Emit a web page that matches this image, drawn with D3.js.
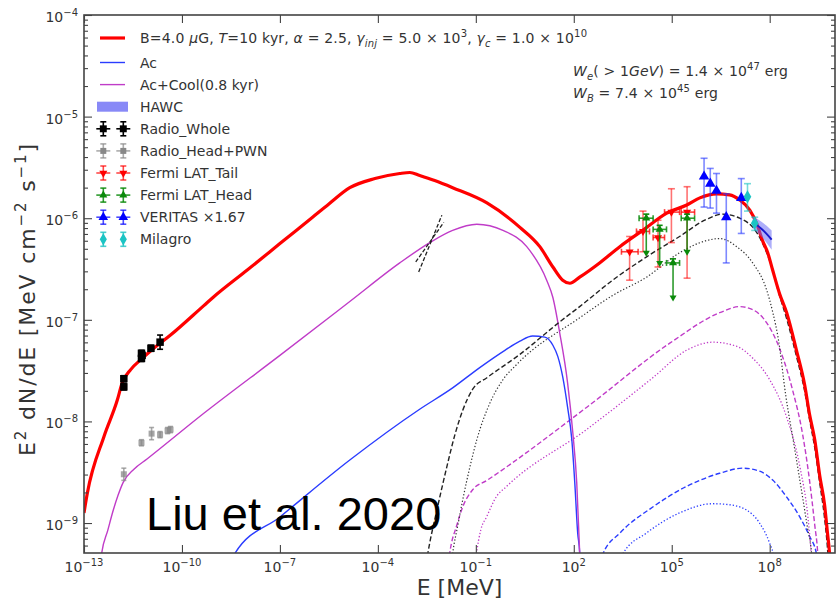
<!DOCTYPE html>
<html>
<head>
<meta charset="utf-8">
<script src="https://cdn.jsdelivr.net/npm/d3@7"></script>
<style>
  body { margin: 0; background: #fff; }
  text { font-family: "DejaVu Sans", sans-serif; }
</style>
</head>
<body>
<svg id="chart" width="837" height="605"></svg>
<script>
// all curves: [log10(E / MeV), log10(E^2 dN/dE)]
const totalModel = [[-13, -8.90], [-12.90, -8.71], [-12.39, -8.15], [-11.98, -7.79], [-11.83, -7.62], [-11.57, -7.49],
  [-11.22, -7.38], [-10.86, -7.28], [-10.35, -7.15], [-9.33, -6.86], [-9.05, -6.78], [-8.00, -6.51], [-7.00, -6.25],
  [-6.00, -5.99], [-5.50, -5.86], [-4.86, -5.70], [-4.09, -5.61], [-3.33, -5.56], [-3.02, -5.55], [-2.72, -5.58],
  [-2.26, -5.63], [-1.71, -5.70], [-0.66, -5.85], [0.35, -6.09], [0.96, -6.28], [1.36, -6.48], [1.66, -6.61],
  [1.88, -6.64], [2.18, -6.58], [2.79, -6.44], [3.41, -6.28], [4.11, -6.12], [4.85, -5.95], [5.46, -5.87],
  [5.86, -5.80], [6.38, -5.76], [6.77, -5.77], [7.08, -5.82], [7.39, -5.92], [7.60, -6.05], [7.78, -6.22],
  [7.94, -6.34], [8.09, -6.51], [8.30, -6.74], [8.52, -6.93], [8.82, -7.30], [9.07, -7.64], [9.22, -7.93],
  [9.38, -8.18], [9.53, -8.53], [9.68, -8.82], [9.77, -9.10], [9.83, -9.29], [9.86, -9.45]];

const synAcCool = [[-12.50, -9.40], [-12.46, -9.30], [-12.27, -9.07], [-12.10, -8.87], [-11.96, -8.73], [-11.80, -8.60],
  [-11.47, -8.47], [-11.07, -8.37], [-9.33, -7.92], [-7.00, -7.35], [-4.86, -6.82], [-3.33, -6.44], [-2.41, -6.24],
  [-1.71, -6.12], [-0.97, -6.06], [-0.17, -6.12], [0.56, -6.28], [1.17, -6.61], [1.36, -6.78], [1.57, -7.13],
  [1.81, -7.62], [1.97, -8.11], [2.09, -8.60], [2.18, -9.29], [2.21, -9.50]];

const synAc = [[-8.45, -9.40], [-8.38, -9.30], [-7.00, -8.94], [-4.86, -8.38], [-2.72, -7.88], [-1.71, -7.67],
  [-0.88, -7.47], [-0.11, -7.30], [0.35, -7.21], [0.74, -7.16], [1.11, -7.17], [1.36, -7.25], [1.51, -7.36],
  [1.66, -7.56], [1.81, -7.86], [1.94, -8.18], [2.03, -8.60], [2.12, -9.10], [2.18, -9.29], [2.20, -9.50]];

const icTotal = [[-2.52, -9.40], [-2.47, -9.30], [-2.19, -8.87], [-1.89, -8.45], [-1.64, -8.13], [-1.40, -7.89],
  [-1.09, -7.68], [-0.66, -7.57], [0.35, -7.34], [1.57, -7.02], [2.18, -6.87], [3.19, -6.61], [4.23, -6.38],
  [5.24, -6.18], [6.07, -6.01], [6.56, -5.96], [7.08, -6.00], [7.60, -6.14], [8.00, -6.42], [8.30, -6.76],
  [8.52, -6.99], [8.82, -7.36], [9.07, -7.70], [9.22, -7.98], [9.38, -8.26], [9.53, -8.60], [9.68, -8.95],
  [9.77, -9.25], [9.81, -9.45]];

const icDotted = [[-1.75, -9.40], [-1.71, -9.30], [-1.55, -9.02], [-1.40, -8.77], [-1.19, -8.46], [-0.97, -8.18],
  [-0.57, -7.82], [-0.17, -7.59], [0.25, -7.44], [2.18, -6.98], [3.19, -6.76], [4.23, -6.58], [5.24, -6.34],
  [6.07, -6.22], [6.47, -6.20], [6.99, -6.28], [7.48, -6.44], [7.91, -6.71], [8.09, -6.92], [8.27, -7.20],
  [8.49, -7.74], [8.76, -8.26], [9.01, -8.75], [9.16, -9.05], [9.28, -9.29], [9.32, -9.45]];

const icAcCoolDash = [[-1.84, -9.40], [-1.80, -9.30], [-1.58, -9.02], [-1.40, -8.84], [-1.09, -8.67], [-0.66, -8.58],
  [2.40, -7.86], [4.94, -7.23], [6.47, -6.93], [7.08, -6.87], [7.48, -6.90], [7.91, -7.03], [8.30, -7.28],
  [8.70, -7.69], [9.01, -8.13], [9.22, -8.58], [9.38, -9.02], [9.47, -9.29], [9.50, -9.45]];

const icAcCoolDot = [[-1.02, -9.40], [-0.98, -9.30], [-0.85, -9.07], [-0.67, -8.94], [-0.37, -8.74], [-0.06, -8.64],
  [2.39, -8.08], [4.42, -7.57], [5.45, -7.30], [6.26, -7.22], [6.98, -7.26], [7.49, -7.38], [8.00, -7.59],
  [8.51, -7.95], [8.92, -8.44], [9.17, -8.94], [9.27, -9.30], [9.30, -9.45]];

const icAcDash = [[2.86, -9.40], [2.90, -9.30], [3.41, -9.10], [4.43, -8.84], [5.45, -8.64], [6.47, -8.51],
  [7.18, -8.46], [7.69, -8.49], [8.10, -8.58], [8.51, -8.74], [8.92, -8.94], [9.22, -9.13], [9.43, -9.30], [9.47, -9.40]];

const icAcDot = [[3.47, -9.40], [3.51, -9.30], [4.22, -9.10], [5.24, -8.90], [6.26, -8.81], [6.77, -8.82],
  [7.28, -8.87], [7.69, -9.00], [8.00, -9.20], [8.10, -9.30], [8.13, -9.40]];

// X-ray butterfly (two power laws)
const xrayA = [[-2.75, -6.53], [-2.04, -5.97]];
const xrayB = [[-2.84, -6.43], [-1.98, -6.04]];

// data points
// radio: [logE, logF, err in dex]
const radioWhole = [[-11.78, -7.58, 0.03], [-11.78, -7.66, 0.03], [-11.24, -7.33, 0.03], [-11.24, -7.38, 0.03],
  [-11.22, -7.35, 0.03], [-10.95, -7.28, 0.03], [-10.67, -7.22, 0.07]];
const radioHead = [[-11.78, -8.52, 0.06], [-11.24, -8.21, 0.03], [-10.93, -8.12, 0.06], [-10.67, -8.13, 0.03],
  [-10.44, -8.09, 0.03], [-10.35, -8.08, 0.03]];
// fermi tail: [logE, logE lo, logE hi, logF, logF lo, logF hi]
const fermiTail = [[3.71, 3.46, 3.97, -6.33, -6.61, -6.18], [4.12, 3.92, 4.32, -6.13, -6.33, -5.93],
  [4.58, 4.43, 4.78, -6.19, -6.48, -6.02], [4.99, 4.78, 5.24, -5.94, -6.24, -5.71],
  [5.47, 5.29, 5.70, -5.94, -6.59, -5.69]];
// fermi head: [logE, logE lo, logE hi, logF, logF top, logF arrow]
const fermiHead = [[4.22, 4.00, 4.43, -6.00, -5.96, -6.38], [4.63, 4.43, 4.84, -6.11, -6.07, -6.48],
  [5.04, 4.84, 5.24, -6.44, -6.40, -6.82], [5.47, 5.29, 5.70, -6.00, -5.96, -6.37]];
// [logE, logF, logF lo, logF hi]
const veritas = [[5.99, -5.58, -5.89, -5.41], [6.18, -5.65, -5.90, -5.51], [6.37, -5.72, -5.95, -5.56],
  [6.67, -5.98, -6.44, -5.76], [7.13, -5.79, -6.15, -5.61]];
const milagro = [[7.32, -5.79, -5.93, -5.66], [7.54, -6.05, -6.12, -5.99]];
const hawcE = [7.48, 7.77, 8.06];
const hawcHi = [-5.98, -6.04, -6.12];
const hawcLo = [-6.10, -6.19, -6.31];
const hawcMid = [-6.04, -6.11, -6.21];

const xTicks = [-13, -10, -7, -4, -1, 2, 5, 8];
const yTicks = [-9, -8, -7, -6, -5, -4];
const legendLabels = ["Ac", "Ac+Cool(0.8 kyr)", "HAWC", "Radio_Whole", "Radio_Head+PWN",
  "Fermi LAT_Tail", "Fermi LAT_Head", "VERITAS \u00d71.67", "Milagro"];

const RED = "#ff0000", BLUE = "#2a3cff", MAG = "#c03cc8", GRAY = "#888888",
  GREEN = "#0a8a0a", CYAN = "#1cc4c4", TXT = "#333";

const svg = d3.select("#chart");
svg.append("rect").attr("width", 837).attr("height", 605).attr("fill", "#fff");

const P = {x0: 84, x1: 835, y0: 15, y1: 553};
const x = d3.scaleLog().domain([1e-13, 1e10]).range([P.x0, P.x1]);
const y = d3.scaleLog().domain([5.07e-10, 1e-4]).range([P.y1, P.y0]);
const px = e => x(Math.pow(10, e));
const py = f => y(Math.pow(10, f));

svg.append("defs").append("clipPath").attr("id", "clip").append("rect")
  .attr("x", P.x0).attr("y", P.y0).attr("width", P.x1 - P.x0).attr("height", P.y1 - P.y0);
const g = svg.append("g").attr("clip-path", "url(#clip)");

// mathtext-ish text: parts with italic / sub / sup flags
function rich(sel, parts, base) {
  base = base || 14;
  const small = Math.round(base * 0.7), up = Math.round(base * 0.42), down = Math.round(base * 0.28);
  let cur = 0;
  parts.forEach(p => {
    const off = p.sub ? down : p.sup ? -up : 0;
    const ts = sel.append("tspan").attr("dy", off - cur).text(p.t);
    cur = off;
    if (p.i) ts.style("font-style", "italic");
    if (p.sub || p.sup) ts.style("font-size", small + "px");
  });
}
const expStr = e => (e < 0 ? "\u2212" + (-e) : "" + e);

// model curves
const line = d3.line().x(d => px(d[0])).y(d => py(d[1])).curve(d3.curveMonotoneX);
const curves = [
  {d: icAcDot, c: BLUE, w: 1.3, dash: "1.3,2"},
  {d: icAcDash, c: BLUE, w: 1.4, dash: "5,2.5"},
  {d: icAcCoolDot, c: MAG, w: 1.3, dash: "1.3,2"},
  {d: icAcCoolDash, c: MAG, w: 1.4, dash: "5,2.5"},
  {d: icDotted, c: "#333", w: 1.2, dash: "1.3,2"},
  {d: synAc, c: BLUE, w: 1.4},
  {d: synAcCool, c: MAG, w: 1.4},
  {d: icTotal, c: "#222", w: 1.4, dash: "5,2.5"},
  {d: totalModel, c: RED, w: 3.2}
];
curves.forEach(cv => {
  g.append("path").attr("d", line(cv.d)).attr("fill", "none")
    .attr("stroke", cv.c).attr("stroke-width", cv.w)
    .attr("stroke-dasharray", cv.dash || null);
});
[xrayA, xrayB].forEach(s => {
  g.append("path").attr("d", d3.line().x(d => px(d[0])).y(d => py(d[1]))(s))
    .attr("fill", "none").attr("stroke", "#222").attr("stroke-width", 1.3).attr("stroke-dasharray", "4,2");
});

// HAWC band
const band = hawcE.map((e, i) => ({e, hi: hawcHi[i], lo: hawcLo[i], mid: hawcMid[i]}));
g.append("path").attr("d", d3.area().x(d => px(d.e)).y0(d => py(d.lo)).y1(d => py(d.hi)).curve(d3.curveMonotoneX)(band))
  .attr("fill", "#6a6cf5").attr("opacity", 0.55);
g.append("path").attr("d", d3.line().x(d => px(d.e)).y(d => py(d.mid)).curve(d3.curveMonotoneX)(band))
  .attr("fill", "none").attr("stroke", "#1a1acc").attr("stroke-width", 2);

// error bar helpers
function vbar(sel, xp, ya, yb, color, op, cap) {
  sel.append("line").attr("x1", xp).attr("x2", xp).attr("y1", ya).attr("y2", yb)
    .attr("stroke", color).attr("stroke-width", 1.6).attr("opacity", op);
  if (cap) [ya, yb].forEach(yy => sel.append("line").attr("x1", xp - cap).attr("x2", xp + cap)
    .attr("y1", yy).attr("y2", yy).attr("stroke", color).attr("stroke-width", 1.6).attr("opacity", op));
}
function hbar(sel, yp, xa, xb, color, op, cap) {
  sel.append("line").attr("x1", xa).attr("x2", xb).attr("y1", yp).attr("y2", yp)
    .attr("stroke", color).attr("stroke-width", 1.6).attr("opacity", op);
  if (cap) [xa, xb].forEach(xx => sel.append("line").attr("x1", xx).attr("x2", xx)
    .attr("y1", yp - cap).attr("y2", yp + cap).attr("stroke", color).attr("stroke-width", 1.6).attr("opacity", op));
}
function marker(sel, type, size, xp, yp, color, rot, op) {
  sel.append("path").attr("d", d3.symbol().type(type).size(size)())
    .attr("transform", `translate(${xp},${yp}) rotate(${rot || 0})`)
    .attr("fill", color).attr("opacity", op || 1);
}
function arrowDown(sel, xp, yp, color) {
  sel.append("path").attr("d", `M${xp - 3.5},${yp - 6}L${xp + 3.5},${yp - 6}L${xp},${yp}Z`).attr("fill", color);
}

const dg = svg.append("g").attr("clip-path", "url(#clip)");
radioHead.forEach(d => {
  vbar(dg, px(d[0]), py(d[1] + d[2]), py(d[1] - d[2]), GRAY, 0.7, 2.5);
  marker(dg, d3.symbolSquare, 36, px(d[0]), py(d[1]), GRAY, 0, 0.75);
});
radioWhole.forEach(d => {
  vbar(dg, px(d[0]), py(d[1] + d[2]), py(d[1] - d[2]), "#000", 1, 3);
  marker(dg, d3.symbolSquare, 56, px(d[0]), py(d[1]), "#000");
});
fermiTail.forEach(d => {
  vbar(dg, px(d[0]), py(d[5]), py(d[4]), RED, 0.55, 3.5);
  hbar(dg, py(d[3]), px(d[1]), px(d[2]), RED, 0.75, 3);
  marker(dg, d3.symbolTriangle, 28, px(d[0]), py(d[3]), RED, 180);
});
fermiHead.forEach(d => {
  vbar(dg, px(d[0]), py(d[4]), py(d[5]) - 3, GREEN, 0.85, 0);
  dg.append("line").attr("x1", px(d[0]) - 3).attr("x2", px(d[0]) + 3).attr("y1", py(d[4])).attr("y2", py(d[4]))
    .attr("stroke", GREEN).attr("stroke-width", 1.6);
  hbar(dg, py(d[3]), px(d[1]), px(d[2]), GREEN, 0.85, 3);
  arrowDown(dg, px(d[0]), py(d[5]), GREEN);
  marker(dg, d3.symbolTriangle, 28, px(d[0]), py(d[3]), GREEN);
});
veritas.forEach(d => {
  vbar(dg, px(d[0]), py(d[3]), py(d[2]), BLUE, 0.6, 3.5);
  marker(dg, d3.symbolTriangle, 48, px(d[0]), py(d[1]) + 1, "#0000ff");
});
milagro.forEach(d => {
  vbar(dg, px(d[0]), py(d[3]), py(d[2]), CYAN, 0.6, 3.5);
  marker(dg, d3.symbolDiamond, 50, px(d[0]), py(d[1]), CYAN);
});

// frame and ticks
const ax = svg.append("g");
ax.append("rect").attr("x", P.x0).attr("y", P.y0).attr("width", P.x1 - P.x0).attr("height", P.y1 - P.y0)
  .attr("fill", "none").attr("stroke", "#444").attr("stroke-width", 1.6);

const minorY = [];
for (let e = -10; e <= -5; e++) for (let k = 2; k <= 9; k++) {
  const v = k * Math.pow(10, e);
  if (v > 5.07e-10 && v < 1e-4) minorY.push(v);
}
const yMajor = yTicks.map(e => Math.pow(10, e));
const xMajor = xTicks.map(e => Math.pow(10, e));

const axes = [
  {gen: d3.axisLeft(y).tickValues(yMajor).tickSize(-8), tr: `translate(${P.x0},0)`},
  {gen: d3.axisLeft(y).tickValues(minorY).tickSize(-4), tr: `translate(${P.x0},0)`},
  {gen: d3.axisRight(y).tickValues(yMajor).tickSize(-8), tr: `translate(${P.x1},0)`},
  {gen: d3.axisRight(y).tickValues(minorY).tickSize(-4), tr: `translate(${P.x1},0)`},
  {gen: d3.axisBottom(x).tickValues(xMajor).tickSize(-8), tr: `translate(0,${P.y1})`},
  {gen: d3.axisTop(x).tickValues(xMajor).tickSize(-8), tr: `translate(0,${P.y0})`}
];
axes.forEach(a => {
  const s = ax.append("g").attr("transform", a.tr).call(a.gen.tickFormat(""));
  s.select(".domain").remove();
  s.selectAll(".tick line").attr("stroke", "#444").attr("stroke-width", 1.1);
});

xTicks.forEach(e => {
  const t = ax.append("text").attr("x", px(e)).attr("y", 572).attr("text-anchor", "middle")
    .style("font-size", "14px").attr("fill", TXT);
  rich(t, [{t: "10"}, {t: expStr(e), sup: 1}]);
});
yTicks.forEach(e => {
  const t = ax.append("text").attr("x", 78).attr("y", py(e) + 7).attr("text-anchor", "end")
    .style("font-size", "14px").attr("fill", TXT);
  rich(t, [{t: "10"}, {t: expStr(e), sup: 1}]);
});

svg.append("text").attr("x", (P.x0 + P.x1) / 2).attr("y", 595).attr("text-anchor", "middle")
  .style("font-size", "22px").attr("fill", TXT).text("E [MeV]");
const yl = svg.append("text").attr("transform", `translate(35,${(P.y0 + P.y1) / 2 + 16}) rotate(-90)`)
  .attr("text-anchor", "middle").style("font-size", "22px").attr("fill", TXT)
  .attr("textLength", 312).attr("lengthAdjust", "spacing");
rich(yl, [{t: "E"}, {t: "2", sup: 1}, {t: " dN/dE [MeV cm"}, {t: "\u22122", sup: 1}, {t: " s"}, {t: "\u22121", sup: 1},
  {t: "]"}], 22);

// energy budget annotation
const a1 = svg.append("text").attr("x", 573).attr("y", 76).style("font-size", "14px").attr("fill", TXT)
  .attr("textLength", 215).attr("lengthAdjust", "spacing");
rich(a1, [{t: "W", i: 1}, {t: "e", i: 1, sub: 1}, {t: "( > 1"}, {t: "GeV", i: 1}, {t: ") = 1.4 \u00d7 10"},
  {t: "47", sup: 1}, {t: " erg"}]);
const a2 = svg.append("text").attr("x", 573).attr("y", 98).style("font-size", "14px").attr("fill", TXT)
  .attr("textLength", 145).attr("lengthAdjust", "spacing");
rich(a2, [{t: "W", i: 1}, {t: "B", i: 1, sub: 1}, {t: " = 7.4 \u00d7 10"}, {t: "45", sup: 1}, {t: " erg"}]);

svg.append("text").attr("x", 146).attr("y", 530).style("font-family", "'Liberation Sans', Arial, sans-serif")
  .style("font-size", "47px").attr("fill", "#000").text("Liu et al. 2020");

// legend
const lg = svg.append("g");
const rowY = i => (i === 0 ? 38 : 62.5 + (i - 1) * 22.1);
const t0 = lg.append("text").attr("x", 140).attr("y", rowY(0) + 5).style("font-size", "14px").attr("fill", TXT)
  .attr("textLength", 447).attr("lengthAdjust", "spacing");
rich(t0, [{t: "B=4.0 "}, {t: "\u03bc", i: 1}, {t: "G, "}, {t: "T", i: 1}, {t: "=10 kyr, "}, {t: "\u03b1", i: 1},
  {t: " = 2.5, "}, {t: "\u03b3", i: 1}, {t: "inj", i: 1, sub: 1}, {t: " = 5.0 \u00d7 10"}, {t: "3", sup: 1},
  {t: ", "}, {t: "\u03b3", i: 1}, {t: "c", i: 1, sub: 1}, {t: " = 1.0 \u00d7 10"}, {t: "10", sup: 1}]);
legendLabels.forEach((lab, j) => {
  lg.append("text").attr("x", 140).attr("y", rowY(j + 1) + 5).style("font-size", "14px").attr("fill", TXT).text(lab);
});
const lineRow = (i, c, w) => lg.append("line").attr("x1", 100).attr("x2", 125).attr("y1", rowY(i)).attr("y2", rowY(i))
  .attr("stroke", c).attr("stroke-width", w);
lineRow(0, RED, 3.2);
lineRow(1, BLUE, 1.4);
lineRow(2, MAG, 1.4);
lg.append("rect").attr("x", 97).attr("y", rowY(3) - 5).attr("width", 31).attr("height", 10)
  .attr("fill", "#6a6cf5").attr("opacity", 0.8);
const glyphs = [
  {c: "#000", op: 1, sym: d3.symbolSquare, s: 48, rot: 0},
  {c: GRAY, op: 0.7, sym: d3.symbolSquare, s: 36, rot: 0},
  {c: RED, op: 0.7, sym: d3.symbolTriangle, s: 28, rot: 180},
  {c: GREEN, op: 0.85, sym: d3.symbolTriangle, s: 28, rot: 0},
  {c: "#0000ff", op: 0.7, sym: d3.symbolTriangle, s: 40, rot: 0},
  {c: CYAN, op: 0.8, sym: d3.symbolDiamond, s: 44, rot: 0, noH: true}
];
glyphs.forEach((gl, k) => {
  const yy = rowY(4 + k);
  [103.3, 123.3].forEach(xx => {
    vbar(lg, xx, yy - 7, yy + 7, gl.c, gl.op, 3);
    if (!gl.noH) hbar(lg, yy, xx - 7, xx + 7, gl.c, gl.op, 0);
    marker(lg, gl.sym, gl.s, xx, yy, gl.c, gl.rot);
  });
});
</script>
</body>
</html>
